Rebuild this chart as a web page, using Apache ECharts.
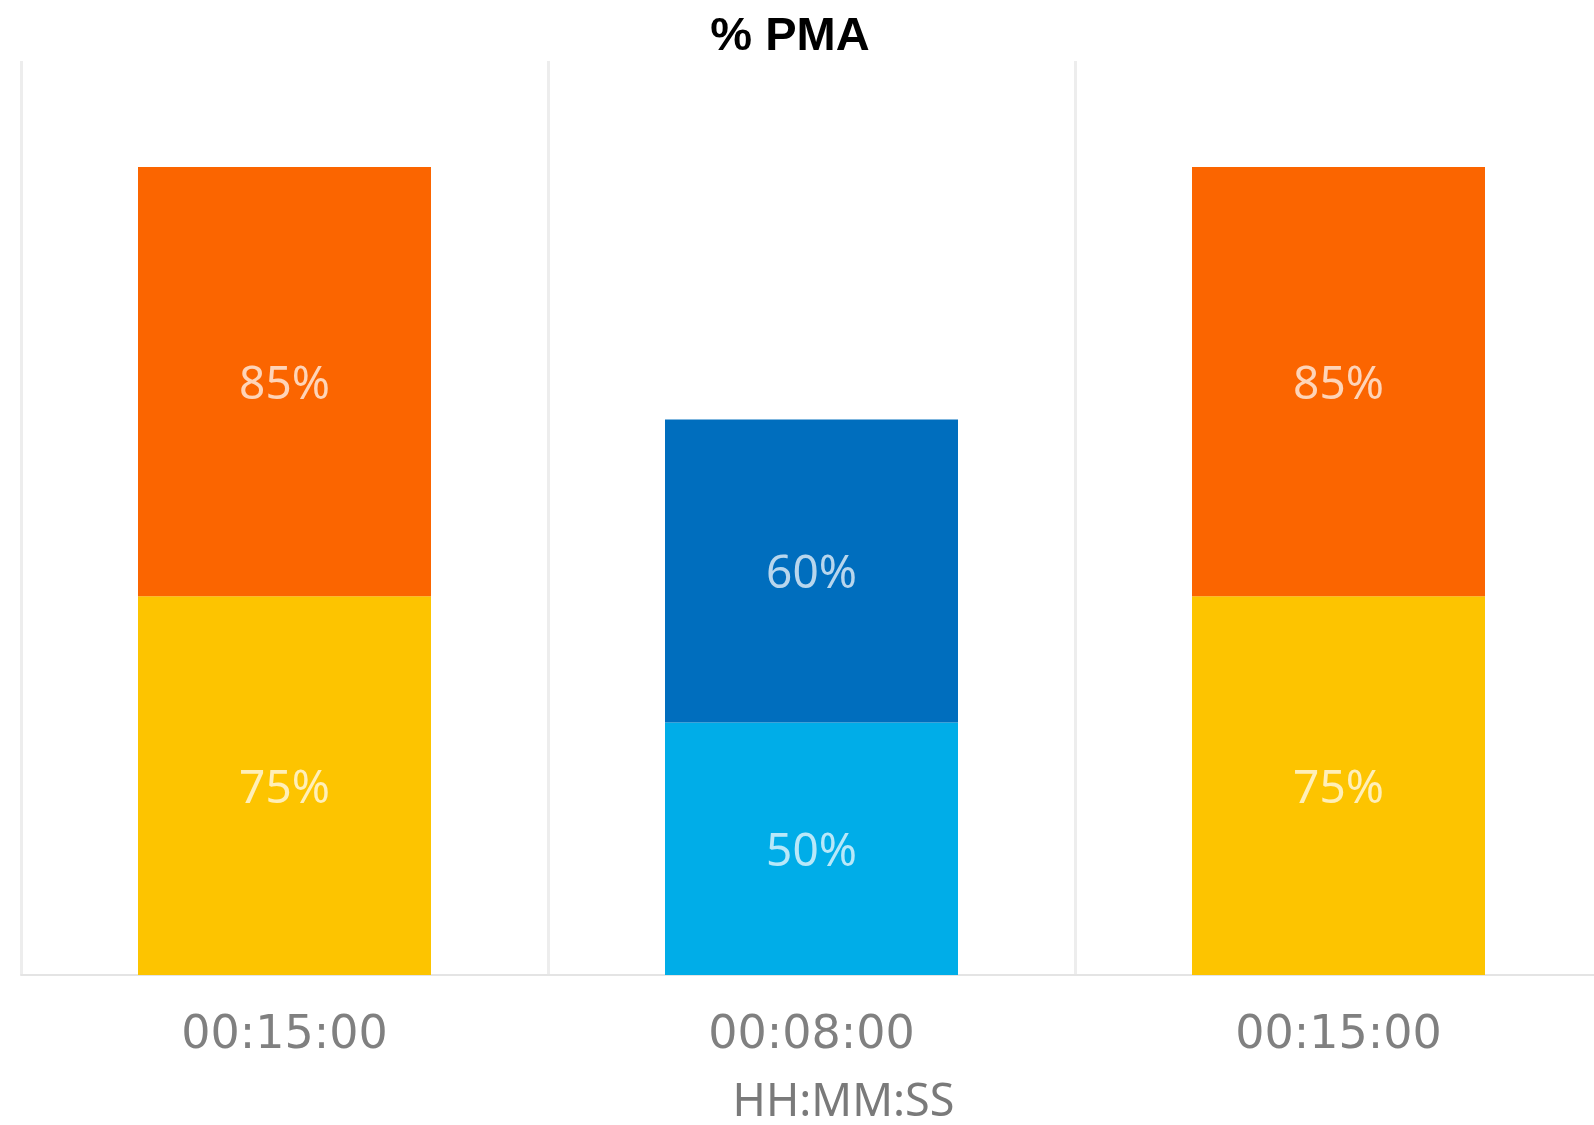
<!DOCTYPE html>
<html>
<head>
<meta charset="utf-8">
<title>% PMA</title>
<script src="https://cdn.jsdelivr.net/npm/echarts@6/dist/echarts.min.js"></script>
<style>
  html, body { margin: 0; padding: 0; background: #ffffff; }
  #chart { width: 1594px; height: 1125px; }
</style>
</head>
<body>
<div id="chart"></div>
<script>
// Durations (HH:MM:SS) on the category axis
const categories = ['00:15:00', '00:08:00', '00:15:00'];
// Lower and upper stacked percentages per duration
const lowerValues = [75, 50, 75];
const upperValues = [85, 60, 85];
// Segment colours per duration
const lowerColors = ['#FDC400', '#00ADE8', '#FDC400'];
const upperColors = ['#FB6500', '#006EBE', '#FB6500'];

const labelStyle = {
  show: true,
  position: 'inside',
  formatter: '{c}%',
  color: 'rgba(255,255,255,0.72)',
  fontFamily: 'Noto Sans',
  fontSize: 46,
  offset: [0, 4]
};

const chart = echarts.init(document.getElementById('chart'), null, { renderer: 'canvas' });

chart.setOption({
  animation: false,
  backgroundColor: '#ffffff',
  title: {
    text: '% PMA',
    left: 785,
    top: 9,
    textAlign: 'center',
    textStyle: {
      fontFamily: 'Liberation Sans',
      fontWeight: 'bold',
      fontSize: 47,
      color: '#000000'
    }
  },
  grid: {
    left: 21,
    right: -8,
    top: 61,
    bottom: 150,
    containLabel: false,
    outerBoundsMode: 'none'
  },
  xAxis: {
    type: 'category',
    data: categories,
    boundaryGap: true,
    axisLine: { show: true, lineStyle: { color: '#e4e4e4', width: 2 } },
    axisTick: { show: false },
    splitLine: { show: true, lineStyle: { color: '#ededed', width: 3 } },
    axisLabel: {
      color: '#808080',
      fontFamily: 'DejaVu Sans',
      fontSize: 46,
      lineHeight: 48,
      margin: 37
    },
    name: 'HH:MM:SS',
    nameLocation: 'middle',
    nameGap: 106,
    nameTextStyle: {
      color: '#7a7a7a',
      fontFamily: 'Noto Sans',
      fontSize: 45,
      padding: [0, 0, 0, 64]
    }
  },
  yAxis: {
    type: 'value',
    min: 0,
    max: 181,
    show: false,
    splitLine: { show: false }
  },
  series: [
    {
      name: 'lower',
      type: 'bar',
      stack: 'pma',
      barWidth: 293,
      data: lowerValues.map((v, i) => ({ value: v, itemStyle: { color: lowerColors[i] } })),
      label: labelStyle
    },
    {
      name: 'upper',
      type: 'bar',
      stack: 'pma',
      barWidth: 293,
      data: upperValues.map((v, i) => ({ value: v, itemStyle: { color: upperColors[i] } })),
      label: labelStyle
    }
  ]
});
</script>
</body>
</html>
